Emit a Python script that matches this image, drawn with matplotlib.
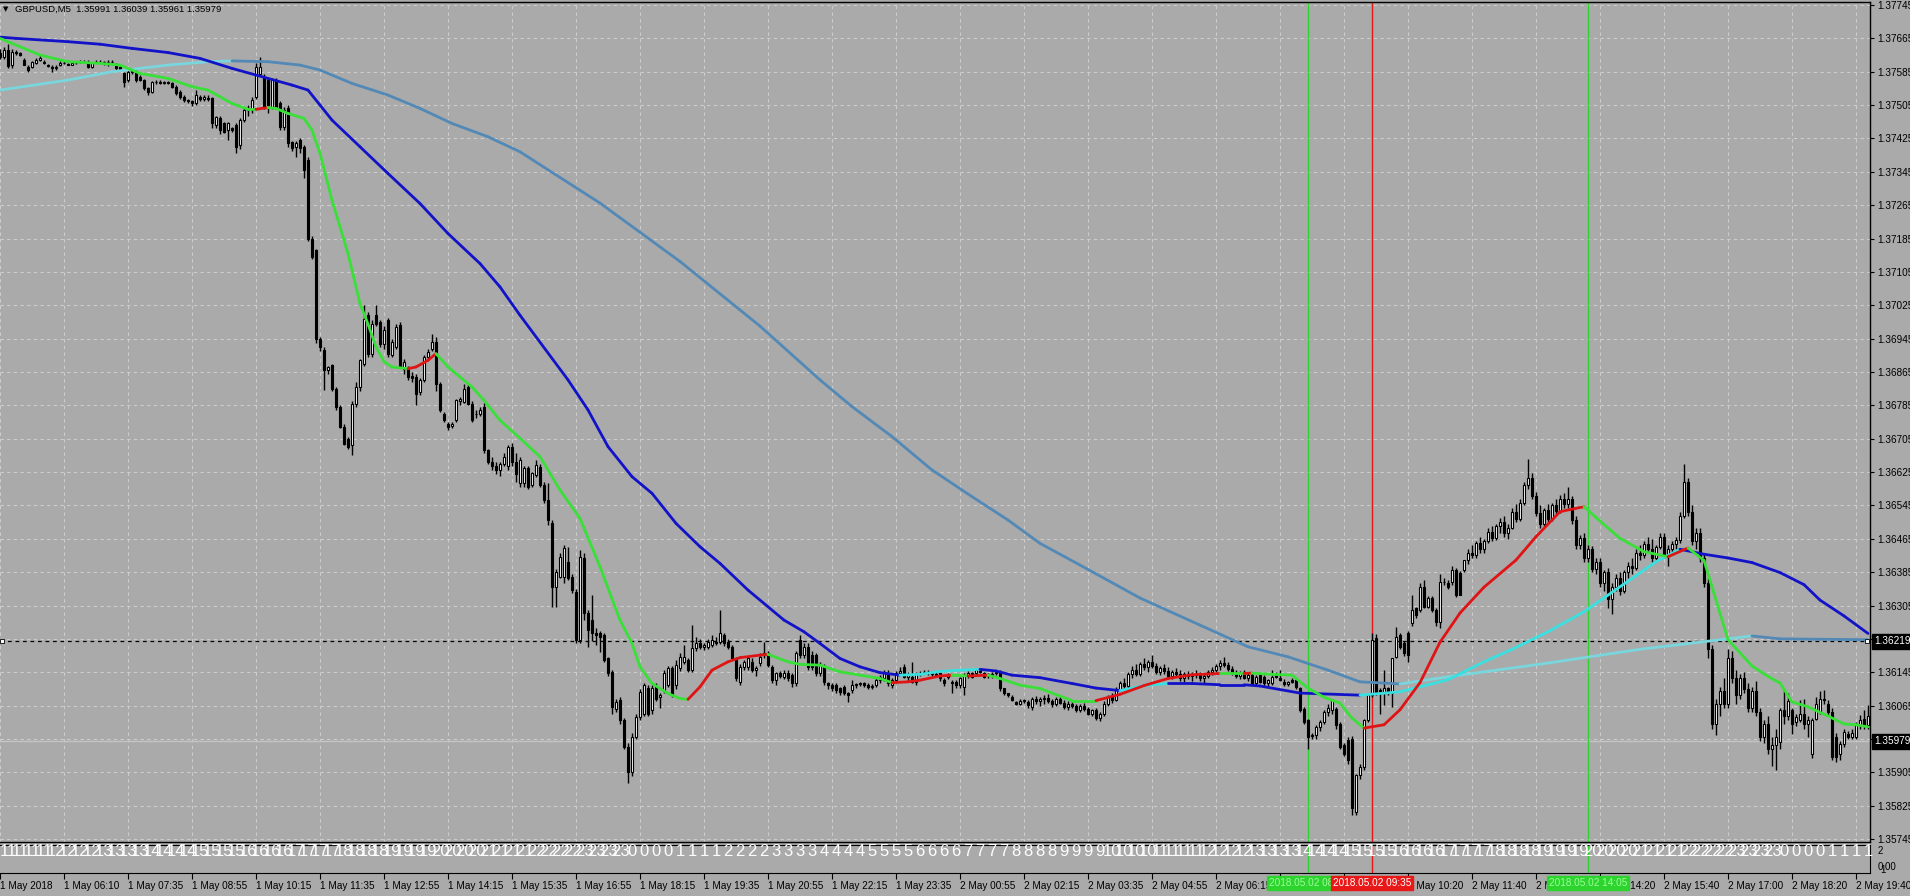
import numpy as np
import matplotlib
matplotlib.use("Agg")
import matplotlib.pyplot as plt
from matplotlib.collections import LineCollection
from matplotlib.transforms import blended_transform_factory as blend

plt.rcParams["font.family"] = ["Liberation Sans", "DejaVu Sans"]

W, H = 1910, 896
BG = "#aaaaaa"
GRID = "#cdcdcd"

# ── data: GBPUSD M5 candles, prices in 1e-5 units ────────────────────────────
open_ = [
    137630, 137621, 137637, 137600, 137632, 137629, 137613, 137597, 137597, 137606,
    137614, 137609, 137601, 137597, 137595, 137601, 137607, 137604, 137602, 137606,
    137608, 137609, 137609, 137597, 137608, 137609, 137609, 137609, 137608, 137600,
    137597, 137581, 137565, 137585, 137585, 137573, 137565, 137545, 137537, 137561,
    137560, 137558, 137561, 137557, 137549, 137537, 137525, 137517, 137515, 137509,
    137525, 137520, 137522, 137521, 137457, 137473, 137461, 137445, 137449, 137457,
    137409, 137469, 137493, 137493, 137525, 137580, 137573, 137565, 137501, 137565,
    137509, 137453, 137497, 137417, 137405, 137421, 137405, 137373, 137185, 137157,
    136945, 136917, 136869, 136881, 136825, 136781, 136733, 136705, 136689, 136789,
    136829, 136885, 137001, 136909, 137001, 136985, 136933, 136989, 136905, 136925,
    136977, 136873, 136873, 136855, 136853, 136817, 136845, 136901, 136921, 136937,
    136837, 136765, 136741, 136735, 136749, 136795, 136793, 136829, 136789, 136765,
    136765, 136781, 136677, 136650, 136640, 136630, 136645, 136640, 136685, 136650,
    136598, 136598, 136634, 136594, 136618, 136638, 136594, 136558, 136502, 136350,
    136374, 136374, 136410, 136374, 136338, 136222, 136418, 136286, 136270, 136240,
    136238, 136234, 136178, 136146, 136058, 136078, 136030, 135965, 135905, 135990,
    136038, 136046, 136106, 136054, 136110, 136085, 136102, 136114, 136154, 136114,
    136154, 136170, 136174, 136150, 136202, 136214, 136206, 136206, 136210, 136218,
    136218, 136234, 136218, 136206, 136178, 136122, 136158, 136158, 136170, 136150,
    136166, 136186, 136190, 136158, 136126, 136142, 136134, 136142, 136138, 136118,
    136222, 136186, 136206, 136186, 136186, 136142, 136158, 136118, 136114, 136114,
    136106, 136110, 136094, 136102, 136114, 136116, 136118, 136114, 136110, 136114,
    136126, 136130, 136142, 136114, 136126, 136142, 136158, 136134, 136134, 136122,
    136142, 136144, 136146, 136142, 136140, 136142, 136126, 136134, 136122, 136122,
    136114, 136110, 136138, 136142, 136142, 136150, 136142, 136138, 136140, 136142,
    136146, 136106, 136094, 136086, 136074, 136070, 136076, 136074, 136062, 136082,
    136076, 136080, 136084, 136075, 136068, 136082, 136072, 136062, 136070, 136064,
    136055, 136065, 136056, 136046, 136054, 136036, 136045, 136070, 136085, 136078,
    136105, 136118, 136112, 136140, 136150, 136140, 136165, 136158, 136170, 136160,
    136145, 136155, 136148, 136135, 136145, 136140, 136130, 136140, 136135, 136140,
    136138, 136130, 136136, 136145, 136150, 136160, 136168, 136162, 136152, 136142,
    136135, 136142, 136132, 136138, 136118, 136138, 136134, 136118, 136118, 136138,
    136130, 136122, 136116, 136126, 136126, 136106, 136058, 136030, 135994, 135994,
    136014, 136026, 136050, 136054, 136058, 136022, 135970, 135982, 135986, 135810,
    135898, 135918, 136030, 136090, 136226, 136102, 136094, 136106, 136094, 136182,
    136234, 136214, 136238, 136262, 136298, 136294, 136350, 136302, 136322, 136294,
    136266, 136362, 136360, 136362, 136390, 136382, 136390, 136414, 136432, 136425,
    136455, 136440, 136460, 136482, 136468, 136495, 136505, 136478, 136492, 136530,
    136512, 136552, 136595, 136610, 136568, 136528, 136500, 136535, 136512, 136545,
    136532, 136560, 136548, 136560, 136510, 136450, 136468, 136420, 136440, 136392,
    136410, 136360, 136385, 136320, 136350, 136372, 136340, 136385, 136400, 136395,
    136432, 136425, 136452, 136440, 136418, 136445, 136470, 136428, 136440, 136452,
    136462, 136520, 136600, 136530, 136460, 136480, 136420, 136360, 136200, 136020,
    136070, 136100, 136070, 136180, 136130, 136090, 136130, 136105, 136060, 136100,
    136050, 135990, 136020, 135960, 135970, 135978, 136054, 136040, 136054, 136026,
    136030, 136046, 136022, 135950, 136034, 136050, 136082, 136070, 136050, 135990,
    135950, 135974, 135998, 135990, 135990, 136018, 136034, 136018,
]
high = [
    137640, 137645, 137652, 137640, 137636, 137632, 137618, 137600, 137610, 137617,
    137625, 137612, 137604, 137600, 137600, 137610, 137610, 137607, 137608, 137610,
    137612, 137612, 137612, 137609, 137612, 137612, 137611, 137612, 137612, 137605,
    137600, 137585, 137590, 137593, 137590, 137578, 137568, 137548, 137562, 137565,
    137564, 137563, 137563, 137560, 137552, 137540, 137528, 137520, 137518, 137540,
    137530, 137528, 137528, 137525, 137480, 137478, 137465, 137465, 137453, 137462,
    137475, 137500, 137505, 137525, 137605, 137621, 137580, 137570, 137570, 137570,
    137515, 137500, 137505, 137420, 137420, 137425, 137410, 137380, 137190, 137160,
    136948, 136925, 136880, 136885, 136830, 136785, 136740, 136708, 136795, 136840,
    136895, 137025, 137010, 136990, 137025, 136990, 136975, 136995, 136945, 136980,
    136985, 136895, 136880, 136865, 136860, 136850, 136905, 136920, 136957, 136950,
    136840, 136770, 136745, 136745, 136800, 136805, 136835, 136835, 136795, 136775,
    136780, 136790, 136680, 136660, 136648, 136650, 136670, 136690, 136695, 136670,
    136662, 136640, 136640, 136625, 136654, 136645, 136600, 136598, 136510, 136392,
    136430, 136450, 136445, 136380, 136345, 136438, 136430, 136295, 136330, 136250,
    136245, 136240, 136182, 136150, 136080, 136085, 136035, 135975, 136000, 136045,
    136105, 136120, 136115, 136115, 136118, 136095, 136150, 136160, 136160, 136175,
    136190, 136210, 136180, 136258, 136230, 136225, 136215, 136225, 136235, 136230,
    136294, 136240, 136225, 136210, 136182, 136165, 136175, 136185, 136178, 136160,
    136190, 136218, 136195, 136162, 136145, 136148, 136150, 136150, 136142, 136195,
    136234, 136215, 136215, 136195, 136192, 136170, 136165, 136122, 136118, 136118,
    136110, 136115, 136098, 136126, 136120, 136122, 136122, 136118, 136116, 136130,
    136138, 136150, 136150, 136130, 136148, 136158, 136165, 136145, 136170, 136145,
    136148, 136150, 136150, 136148, 136146, 136146, 136130, 136142, 136126, 136126,
    136134, 136142, 136148, 136146, 136155, 136156, 136146, 136144, 136145, 136150,
    136150, 136108, 136096, 136090, 136076, 136080, 136082, 136078, 136085, 136088,
    136085, 136090, 136092, 136082, 136085, 136090, 136078, 136075, 136078, 136070,
    136068, 136072, 136062, 136058, 136060, 136050, 136075, 136090, 136095, 136110,
    136125, 136130, 136145, 136160, 136165, 136170, 136180, 136175, 136186, 136168,
    136160, 136165, 136158, 136150, 136155, 136150, 136145, 136148, 136145, 136150,
    136146, 136142, 136150, 136158, 136165, 136175, 136182, 136170, 136160, 136150,
    136148, 136150, 136142, 136142, 136138, 136142, 136138, 136128, 136150, 136145,
    136150, 136128, 136125, 136130, 136130, 136110, 136062, 136034, 136000, 136018,
    136030, 136054, 136070, 136082, 136062, 136026, 135975, 135990, 135992, 135900,
    135925, 136032, 136092, 136240, 136236, 136108, 136150, 136110, 136178, 136254,
    136240, 136220, 136245, 136330, 136302, 136360, 136365, 136328, 136328, 136300,
    136380, 136370, 136365, 136400, 136394, 136388, 136414, 136440, 136450, 136460,
    136470, 136465, 136490, 136495, 136500, 136515, 136520, 136500, 136540, 136548,
    136560, 136600, 136656, 136622, 136578, 136545, 136540, 136548, 136550, 136560,
    136570, 136574, 136590, 136568, 136520, 136475, 136478, 136450, 136448, 136420,
    136418, 136390, 136395, 136360, 136380, 136385, 136390, 136410, 136420, 136440,
    136450, 136460, 136470, 136465, 136450, 136480, 136478, 136450, 136460, 136470,
    136530, 136645, 136610, 136545, 136490, 136490, 136430, 136370, 136210, 136080,
    136110, 136130, 136200, 136195, 136150, 136140, 136145, 136120, 136110, 136125,
    136060, 136030, 136040, 135990, 136010, 136060, 136102, 136095, 136060, 136045,
    136078, 136080, 136040, 136035, 136086, 136100, 136102, 136078, 136060, 136000,
    135980, 136010, 136005, 136010, 136025, 136042, 136054, 136066,
]
low = [
    137615, 137615, 137593, 137595, 137626, 137622, 137600, 137585, 137595, 137603,
    137610, 137604, 137596, 137585, 137590, 137599, 137603, 137600, 137600, 137603,
    137605, 137606, 137595, 137595, 137605, 137606, 137602, 137598, 137605, 137590,
    137587, 137549, 137560, 137580, 137560, 137562, 137540, 137529, 137533, 137556,
    137555, 137555, 137555, 137545, 137530, 137520, 137512, 137511, 137503, 137505,
    137515, 137515, 137515, 137449, 137450, 137435, 137437, 137421, 137440, 137389,
    137400, 137465, 137480, 137485, 137520, 137575, 137495, 137485, 137495, 137495,
    137445, 137445, 137405, 137395, 137380, 137390, 137330, 137180, 137135, 136935,
    136915, 136821, 136860, 136820, 136775, 136730, 136690, 136680, 136665, 136780,
    136820, 136880, 136900, 136900, 136975, 136925, 136920, 136900, 136900, 136920,
    136875, 136860, 136845, 136840, 136785, 136810, 136840, 136895, 136915, 136820,
    136770, 136745, 136725, 136730, 136745, 136785, 136790, 136785, 136745, 136755,
    136760, 136670, 136645, 136630, 136620, 136615, 136640, 136630, 136640, 136600,
    136590, 136590, 136585, 136590, 136612, 136590, 136550, 136498, 136302, 136302,
    136370, 136360, 136365, 136335, 136215, 136215, 136270, 136206, 136220, 136210,
    136194, 136170, 136135, 136046, 136050, 136020, 135960, 135880, 135895, 135985,
    136030, 136040, 136040, 136045, 136075, 136060, 136095, 136110, 136085, 136105,
    136148, 136165, 136145, 136145, 136195, 136200, 136198, 136200, 136205, 136210,
    136212, 136208, 136200, 136175, 136125, 136115, 136150, 136150, 136145, 136135,
    136160, 136180, 136158, 136120, 136115, 136130, 136128, 136125, 136110, 136112,
    136180, 136180, 136150, 136150, 136135, 136135, 136115, 136105, 136100, 136095,
    136090, 136090, 136074, 136095, 136108, 136112, 136110, 136105, 136104, 136110,
    136120, 136125, 136112, 136108, 136120, 136138, 136130, 136125, 136118, 136115,
    136135, 136140, 136138, 136135, 136134, 136125, 136112, 136128, 136094, 136108,
    136108, 136090, 136130, 136130, 136138, 136142, 136130, 136132, 136132, 136138,
    136100, 136090, 136086, 136075, 136066, 136066, 136072, 136060, 136055, 136070,
    136065, 136070, 136072, 136062, 136064, 136070, 136058, 136055, 136060, 136050,
    136050, 136052, 136042, 136040, 136030, 136028, 136040, 136065, 136072, 136075,
    136100, 136105, 136108, 136130, 136135, 136135, 136150, 136145, 136155, 136140,
    136138, 136140, 136130, 136128, 136135, 136125, 136122, 136128, 136125, 136130,
    136125, 136120, 136130, 136138, 136145, 136150, 136158, 136148, 136138, 136130,
    136128, 136128, 136125, 136115, 136114, 136118, 136112, 136112, 136114, 136130,
    136124, 136112, 136112, 136118, 136105, 136050, 136020, 135960, 135985, 135985,
    136005, 136020, 136040, 136045, 136010, 135960, 135945, 135925, 135802, 135802,
    135890, 135910, 136025, 136085, 136090, 136046, 136066, 136090, 136062, 136178,
    136200, 136185, 136170, 136255, 136275, 136290, 136300, 136298, 136290, 136255,
    136250, 136355, 136345, 136355, 136325, 136330, 136385, 136405, 136420, 136418,
    136430, 136432, 136455, 136460, 136462, 136480, 136470, 136465, 136488, 136505,
    136508, 136545, 136585, 136560, 136520, 136490, 136495, 136505, 136508, 136525,
    136528, 136540, 136540, 136500, 136440, 136440, 136410, 136410, 136385, 136380,
    136350, 136340, 136300, 136285, 136340, 136330, 136335, 136370, 136380, 136390,
    136415, 136420, 136430, 136410, 136410, 136440, 136420, 136400, 136430, 136440,
    136455, 136515, 136520, 136450, 136440, 136410, 136350, 136180, 136010, 135995,
    136040, 136060, 136060, 136120, 136070, 136080, 136095, 136050, 136050, 136040,
    135980, 135975, 135950, 135920, 135911, 135960, 136022, 136030, 135998, 136015,
    136025, 136010, 135990, 135940, 136030, 136045, 136070, 136040, 135935, 135930,
    135934, 135965, 135985, 135985, 135985, 136010, 136010, 136010,
]
close = [
    137620, 137638, 137598, 137633, 137630, 137625, 137601, 137590, 137609, 137613,
    137617, 137606, 137598, 137593, 137597, 137607, 137605, 137602, 137605, 137607,
    137610, 137609, 137597, 137605, 137609, 137608, 137605, 137608, 137609, 137595,
    137589, 137561, 137585, 137587, 137565, 137566, 137545, 137537, 137561, 137560,
    137558, 137561, 137557, 137549, 137533, 137525, 137517, 137515, 137509, 137529,
    137520, 137525, 137519, 137461, 137477, 137445, 137441, 137461, 137445, 137405,
    137469, 137493, 137497, 137517, 137597, 137597, 137501, 137505, 137565, 137501,
    137453, 137493, 137413, 137401, 137413, 137401, 137349, 137185, 137141, 136945,
    136925, 136869, 136877, 136825, 136781, 136733, 136693, 136685, 136789, 136829,
    136893, 136993, 136909, 136981, 136981, 136933, 136965, 136909, 136937, 136973,
    136877, 136889, 136853, 136850, 136813, 136845, 136901, 136913, 136937, 136837,
    136773, 136749, 136733, 136741, 136797, 136800, 136825, 136789, 136749, 136765,
    136775, 136677, 136650, 136640, 136630, 136645, 136662, 136685, 136650, 136620,
    136655, 136634, 136590, 136622, 136642, 136594, 136558, 136510, 136350, 136386,
    136422, 136442, 136370, 136342, 136222, 136422, 136286, 136246, 136238, 136234,
    136230, 136174, 136142, 136062, 136074, 136030, 135965, 135905, 135990, 136038,
    136098, 136114, 136046, 136106, 136082, 136090, 136142, 136154, 136090, 136162,
    136182, 136182, 136150, 136202, 136214, 136206, 136210, 136218, 136222, 136214,
    136238, 136214, 136206, 136178, 136130, 136158, 136170, 136178, 136150, 136154,
    136182, 136190, 136162, 136126, 136142, 136136, 136142, 136130, 136118, 136190,
    136186, 136206, 136158, 136158, 136142, 136162, 136122, 136114, 136106, 136102,
    136098, 136094, 136090, 136114, 136116, 136118, 136114, 136110, 136112, 136126,
    136134, 136142, 136118, 136126, 136142, 136148, 136134, 136138, 136122, 136142,
    136144, 136146, 136142, 136140, 136138, 136130, 136118, 136138, 136118, 136114,
    136130, 136138, 136142, 136134, 136150, 136146, 136134, 136140, 136138, 136146,
    136106, 136094, 136090, 136078, 136070, 136076, 136078, 136066, 136082, 136076,
    136080, 136084, 136075, 136068, 136082, 136072, 136062, 136070, 136064, 136055,
    136065, 136056, 136046, 136054, 136036, 136045, 136070, 136085, 136078, 136105,
    136118, 136112, 136140, 136150, 136140, 136165, 136158, 136170, 136160, 136145,
    136155, 136148, 136135, 136145, 136140, 136130, 136140, 136135, 136140, 136138,
    136130, 136136, 136145, 136150, 136160, 136168, 136162, 136152, 136142, 136135,
    136142, 136132, 136138, 136118, 136134, 136122, 136118, 136126, 136134, 136134,
    136126, 136116, 136122, 136122, 136110, 136054, 136026, 135990, 135992, 136014,
    136026, 136050, 136060, 136078, 136018, 135966, 135950, 135934, 135820, 135898,
    135918, 136030, 136090, 136222, 136094, 136094, 136106, 136094, 136178, 136230,
    136206, 136190, 136186, 136294, 136282, 136350, 136302, 136322, 136294, 136266,
    136362, 136362, 136350, 136390, 136330, 136330, 136414, 136432, 136425, 136455,
    136440, 136460, 136482, 136468, 136495, 136505, 136478, 136492, 136530, 136512,
    136552, 136595, 136610, 136568, 136528, 136500, 136535, 136512, 136545, 136532,
    136560, 136548, 136560, 136510, 136450, 136468, 136420, 136440, 136392, 136410,
    136360, 136385, 136320, 136350, 136372, 136340, 136385, 136400, 136395, 136432,
    136425, 136452, 136440, 136418, 136445, 136470, 136428, 136440, 136452, 136462,
    136520, 136600, 136530, 136460, 136480, 136420, 136360, 136200, 136020, 136070,
    136100, 136070, 136180, 136130, 136090, 136130, 136105, 136060, 136100, 136050,
    135990, 136020, 135960, 135970, 135990, 136054, 136040, 136075, 136022, 136038,
    136046, 136022, 136030, 136030, 136070, 136082, 136078, 136050, 135942, 135942,
    135974, 136002, 135990, 136000, 136018, 136030, 136018, 136040,
]

# moving averages (bar index, price)
fast_x = [0, 10, 17, 25, 30, 35, 42, 48, 52, 55, 58, 62, 64, 67, 69, 72, 76, 78, 80, 83,
          87, 90, 92, 94, 96, 98, 102, 104, 107, 109, 112, 115, 118, 121, 125, 130, 135, 140, 145, 150,
          155, 158, 160, 163, 167, 170, 172, 175, 178, 182, 185, 190, 192, 197, 200, 205, 210, 215, 220, 223,
          227, 230, 235, 238, 242, 247, 250, 255, 260, 268, 274, 280, 286, 292, 298, 305, 311, 313, 318, 323,
          327, 331, 335, 338, 341, 346, 350, 355, 360, 365, 371, 379, 384, 390, 396, 399, 405, 411, 417, 422,
          426, 432, 438, 442, 445, 448, 452, 457, 461, 464, 467]
fast_y = [137665, 137625, 137609, 137605, 137601, 137581, 137569, 137549, 137541, 137525,
          137509, 137495, 137495, 137499, 137497, 137485, 137473, 137445, 137389, 137277,
          137149, 137029, 136980, 136925, 136890, 136877, 136873, 136877, 136893, 136909,
          136877, 136853, 136829, 136797, 136749, 136706, 136662, 136582, 136514, 136398,
          136270, 136214, 136158, 136118, 136094, 136082, 136080, 136110, 136150, 136170,
          136180, 136186, 136188, 136170, 136164, 136162, 136146, 136138, 136130, 136120,
          136122, 136126, 136136, 136138, 136136, 136138, 136130, 136114, 136106, 136077,
          136077, 136092, 136113, 136130, 136139, 136142, 136142, 136143, 136140, 136138,
          136107, 136085, 136071, 136035, 136011, 136019, 136055, 136120, 136217, 136287,
          136349, 136414, 136470, 136530, 136542, 136516, 136466, 136434, 136422, 136443,
          136413, 136223, 136160, 136135, 136119, 136074, 136062, 136040, 136021, 136019,
          136014]
mid_x = [0, 4, 17, 25, 33, 42, 50, 58, 67, 73, 77, 80, 83, 90, 97, 105, 112, 120, 125, 130,
         142, 147, 152, 158, 163, 169, 175, 180, 187, 196, 201, 205, 210, 215, 220, 225, 230, 235, 240, 245,
         249, 253, 260, 268, 274, 280, 286, 292, 298, 305, 311, 315, 325, 340, 350, 362, 371, 378, 387, 396,
         402, 408, 414, 420, 426, 432, 438, 445, 451, 455, 461, 467]
mid_y = [137668, 137665, 137657, 137651, 137641, 137631, 137617, 137593, 137569, 137553,
         137541, 137505, 137469, 137405, 137341, 137269, 137197, 137125, 137069, 137001,
         136846, 136774, 136686, 136614, 136574, 136502, 136446, 136406, 136342, 136270,
         136242, 136214, 136178, 136158, 136144, 136138, 136140, 136147, 136150, 136152,
         136148, 136138, 136132, 136118, 136107, 136101, 136113, 136118, 136118, 136115,
         136115, 136112, 136095, 136090, 136098, 136127, 136170, 136200, 136242, 136290,
         136330, 136370, 136410, 136440, 136428, 136419, 136408, 136384, 136355, 136318,
         136280, 136238]
slow_x = [0, 17, 28, 42, 52, 58, 67, 75, 80, 88, 97, 105, 113, 122, 130, 150, 170, 190, 205, 213,
          223, 233, 243, 252, 260, 270, 285, 300, 312, 322, 332, 340, 350, 362, 387, 410, 438, 445, 467]
slow_y = [137541, 137565, 137585, 137601, 137609, 137611, 137609, 137601, 137589, 137557,
          137529, 137497, 137461, 137429, 137393, 137270, 137130, 136975, 136846, 136782,
          136710, 136630, 136566, 136510, 136454, 136402, 136323, 136258, 136206, 136182,
          136150, 136122, 136117, 136134, 136167, 136200, 136232, 136225, 136223]

price_ticks = [137745 - 80 * k for k in range(26)]
time_labels = ["1 May 2018", "1 May 06:10", "1 May 07:35", "1 May 08:55", "1 May 10:15",
               "1 May 11:35", "1 May 12:55", "1 May 14:15", "1 May 15:35", "1 May 16:55",
               "1 May 18:15", "1 May 19:35", "1 May 20:55", "1 May 22:15", "1 May 23:35",
               "2 May 00:55", "2 May 02:15", "2 May 03:35", "2 May 04:55", "2 May 06:15",
               "2 May 07:35", "2 May 09:00", "2 May 10:20", "2 May 11:40", "2 May 13:00",
               "2 May 14:20", "2 May 15:40", "2 May 17:00", "2 May 18:20", "2 May 19:40"]
vlines_bar = [327, 343, 397]
vlines_text = ["2018.05.02 08:15", "2018.05.02 09:35", "2018.05.02 14:05"]
vlines_col = ["#2ed42e", "#e81818", "#2ed42e"]
hline_price = 136219
bid_price = 135979
header = "GBPUSD,M5  1.35991 1.36039 1.35961 1.35979"


def P(v):
    return np.array(v, dtype=float) / 1e5


def slope_line(ax, xs, ys, up_col, dn_col, lw=1.8):
    xs, ys = np.asarray(xs, float), P(ys)
    pts = np.column_stack([xs, ys])
    segs = np.stack([pts[:-1], pts[1:]], axis=1)
    cols = [up_col if b > a else dn_col for a, b in zip(ys[:-1], ys[1:])]
    ax.add_collection(LineCollection(segs, colors=cols, linewidths=lw,
                                     capstyle="round", joinstyle="round", zorder=5))


fig = plt.figure(figsize=(W / 100, H / 100), dpi=100, facecolor=BG)
ax = fig.add_axes([0, 1 - 842 / H, 1870 / W, 840 / H], facecolor=BG)
sub = fig.add_axes([0, 1 - 873 / H, 1870 / W, 28 / H], facecolor=BG, sharex=ax)

o, h, l, c = P(open_), P(high), P(low), P(close)
x = np.arange(len(c))
up = c >= o
dn = ~up
ax.vlines(x, l, h, color="black", lw=1.0, zorder=3)
ax.bar(x[up], (c - o)[up], bottom=o[up], width=0.72, color="white",
       edgecolor="black", linewidth=0.8, zorder=4)
ax.bar(x[dn], (o - c)[dn], bottom=c[dn], width=0.72, color="black",
       edgecolor="black", linewidth=0.8, zorder=4)

slope_line(ax, slow_x, slow_y, "#79d6dc", "#5289b6", 2.0)
slope_line(ax, mid_x, mid_y, "#3ae0e0", "#1212c8", 2.0)
slope_line(ax, fast_x, fast_y, "#e01414", "#38e038", 2.0)

ax.axhline(hline_price / 1e5, color="black", lw=0.9, ls=(0, (3, 3)), zorder=2)
ax.axhline(bid_price / 1e5, color="#c4c4c4", lw=1.0, zorder=2)
for b, col in zip(vlines_bar, vlines_col):
    ax.axvline(b, color=col, lw=1.0, zorder=2)
    sub.axvline(b, color=col, lw=1.0, zorder=2)

ax.set_xlim(0, 467.5)
ax.set_ylim(1.357379, 1.377522)
ax.set_yticks(P(price_ticks))
ax.set_yticklabels([f"{v / 1e5:.5f}" for v in price_ticks])
ax.yaxis.tick_right()
ax.tick_params(axis="y", direction="out", length=3, width=0.8, pad=2,
               labelsize=7.2, colors="black")
ax.set_xticks(np.arange(0, 468, 8))
ax.tick_params(axis="x", length=0, labelbottom=False)
ax.grid(True, color=GRID, lw=0.8, ls=(0, (3, 3)))
ax.set_axisbelow(True)
ax.spines["left"].set_visible(False)
for s in ("top", "right", "bottom"):
    ax.spines[s].set_color("black")
    ax.spines[s].set_linewidth(1.0)

# price boxes on the right, small end markers on the dashed line
tr = blend(ax.transAxes, ax.transData)
for pv in (hline_price, bid_price):
    ax.text(1.0025, pv / 1e5, f"{pv / 1e5:.5f}", transform=tr, color="white",
            fontsize=7.2, va="center", ha="left", clip_on=False, zorder=10,
            bbox=dict(boxstyle="square,pad=0.28", fc="black", ec="black"))
ax.plot([0.4, 466.8], [hline_price / 1e5] * 2, ls="none", marker="s", ms=3.5,
        mfc="white", mec="black", mew=0.6, zorder=6, clip_on=False)

# sub window: hour digits
sub.set_ylim(0, 1)
sub.set_yticks([])
for i in range(2, 468, 3):
    minute = 6 * 60 + 10 + (i - 16) * 5
    hr = (minute // 60 + 6) % 24
    sub.text(i, 0.76, str(hr), color="white", fontsize=12, ha="center",
             va="center", zorder=3)
sub.set_xticks(np.arange(0, 468, 16))
sub.set_xticklabels(time_labels, ha="left")
sub.tick_params(axis="x", direction="out", length=4, width=0.8, pad=1.5,
                labelsize=7.2, colors="black")
sub.spines["left"].set_visible(False)
for s in ("top", "right", "bottom"):
    sub.spines[s].set_color("black")
sub.text(1.004, 0.78, "2", transform=sub.transAxes, fontsize=7, va="center")
sub.text(1.004, 0.22, "0.00", transform=sub.transAxes, fontsize=7, va="center")
sub.text(1.0055, 0.12, "1", transform=sub.transAxes, fontsize=7, va="center")

trs = blend(sub.transData, sub.transAxes)
for b, txt, col in zip(vlines_bar, vlines_text, vlines_col):
    tcol = "white" if col.startswith("#e") else "#9cff9c"
    sub.text(b, -0.36, txt, transform=trs, color=tcol, fontsize=7.2,
             ha="center", va="center", clip_on=False, zorder=10,
             bbox=dict(boxstyle="square,pad=0.18", fc=col, ec=col))

fig.text(3 / W, 1 - 9.5 / H, "\u25bc", fontsize=5, va="center",
         family=["DejaVu Sans"])
fig.text(15 / W, 1 - 9.5 / H, header, fontsize=6.8, va="center")

fig.savefig("out.png", dpi=100, facecolor=BG)
